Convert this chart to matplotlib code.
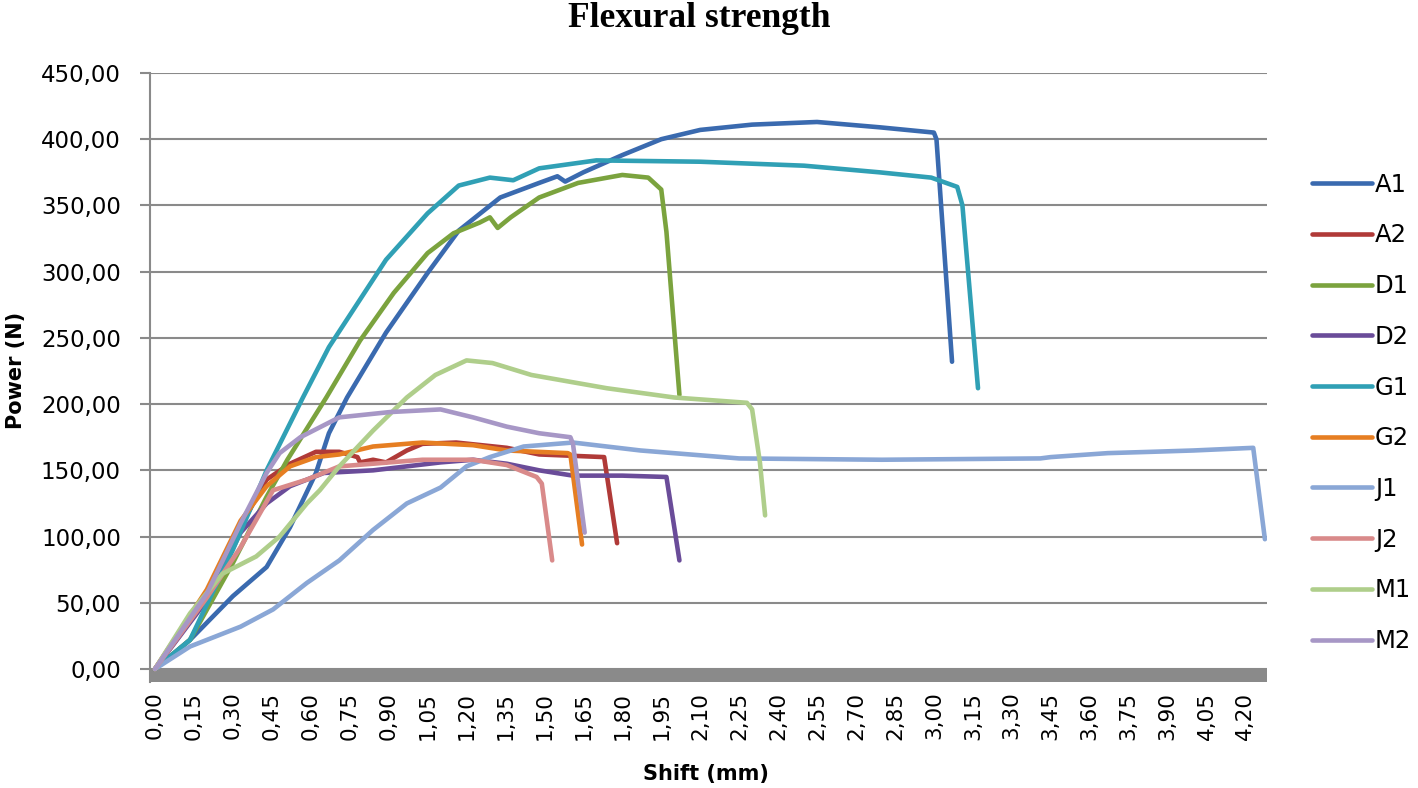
import numpy as np
import matplotlib
matplotlib.use('Agg')
import matplotlib.pyplot as plt

# Flexural strength test curves: shift (mm) vs power (N)
a1_x = [0, 0.135, 0.30, 0.43, 0.52, 0.62, 0.67, 0.74, 0.89, 1.05, 1.17, 1.33, 1.48, 1.55, 1.58,
        1.65, 1.80, 1.95, 2.10, 2.30, 2.55, 2.79, 3.00, 3.01, 3.07]
a1_y = [0, 22, 55, 77, 107, 148, 178, 205, 254, 299, 331, 356, 367, 372, 368,
        375, 388, 400, 407, 411, 413, 409, 405, 400, 232]

a2_x = [0, 0.20, 0.33, 0.43, 0.52, 0.62, 0.71, 0.78, 0.79, 0.84, 0.89, 0.97, 1.03, 1.16, 1.355,
        1.48, 1.73, 1.78]
a2_y = [0, 58, 108, 143, 155, 164, 164, 160, 156, 158, 156, 165, 170, 171, 167,
        162, 160, 95]

d1_x = [0, 0.135, 0.30, 0.43, 0.51, 0.66, 0.79, 0.92, 1.05, 1.15, 1.25, 1.29, 1.32, 1.37, 1.48,
        1.63, 1.80, 1.90, 1.95, 1.97, 2.02]
d1_y = [0, 22, 80, 130, 158, 205, 248, 284, 314, 329, 337, 341, 333, 341, 356,
        367, 373, 371, 362, 330, 207]

d2_x = [0, 0.20, 0.33, 0.43, 0.52, 0.65, 0.84, 1.10, 1.225, 1.355, 1.48, 1.61, 1.80, 1.97, 2.02]
d2_y = [0, 52, 103, 125, 138, 148, 150, 156, 158, 155, 150, 146, 146, 145, 82]

g1_x = [0, 0.135, 0.30, 0.37, 0.43, 0.57, 0.67, 0.79, 0.89, 1.05, 1.17, 1.29, 1.38, 1.48, 1.70,
        2.10, 2.50, 2.79, 2.99, 3.09, 3.11, 3.17]
g1_y = [0, 22, 90, 122, 150, 205, 243, 279, 309, 344, 365, 371, 369, 378, 384,
        383, 380, 375, 371, 364, 350, 212]

g2_x = [0, 0.20, 0.33, 0.43, 0.52, 0.62, 0.71, 0.84, 1.03, 1.225, 1.355, 1.59, 1.60, 1.645]
g2_y = [0, 60, 112, 138, 153, 160, 162, 168, 171, 169, 165, 163, 162, 94]

j1_x = [0, 0.135, 0.33, 0.455, 0.585, 0.71, 0.84, 0.97, 1.10, 1.20, 1.29, 1.42, 1.61, 1.87, 2.25,
        2.80, 3.41, 3.45, 3.67, 3.84, 4.00, 4.23, 4.275]
j1_y = [0, 17, 32, 45, 65, 82, 105, 125, 137, 153, 160, 168, 171, 165, 159,
        158, 159, 160, 163, 164, 165, 167, 98]

j2_x = [0, 0.20, 0.33, 0.455, 0.585, 0.71, 0.84, 1.03, 1.225, 1.355, 1.47, 1.49, 1.53]
j2_y = [0, 54, 92, 135, 143, 153, 155, 158, 158, 154, 145, 140, 82]

m1_x = [0, 0.135, 0.26, 0.39, 0.48, 0.585, 0.635, 0.71, 0.84, 0.97, 1.08, 1.20, 1.30, 1.45,
        1.74, 2.00, 2.28, 2.30, 2.33, 2.35]
m1_y = [0, 42, 72, 85, 100, 125, 135, 153, 180, 205, 222, 233, 231, 222,
        212, 205, 201, 196, 156, 116]

m2_x = [0, 0.20, 0.33, 0.43, 0.48, 0.56, 0.71, 0.905, 1.10, 1.225, 1.355, 1.48, 1.60, 1.61, 1.655]
m2_y = [0, 57, 110, 148, 163, 175, 190, 194, 196, 190, 183, 178, 175, 170, 103]

labels = ['A1', 'A2', 'D1', 'D2', 'G1', 'G2', 'J1', 'J2', 'M1', 'M2']
colors = ['#3A6AAF', '#B03A38', '#7BA33E', '#6A4C99', '#30A0B5',
          '#E67E22', '#8AA7D6', '#D98A8A', '#AFCE8B', '#A797C6']
series = [(a1_x, a1_y), (a2_x, a2_y), (d1_x, d1_y), (d2_x, d2_y), (g1_x, g1_y),
          (g2_x, g2_y), (j1_x, j1_y), (j2_x, j2_y), (m1_x, m1_y), (m2_x, m2_y)]

y_ticks = np.arange(0, 451, 50)
x_ticks = np.arange(0, 4.21, 0.15)

fig = plt.figure(figsize=(14.18, 7.88), dpi=100)
ax = fig.add_axes([0.1058, 0.1345, 0.7877, 0.7729])

for (xs, ys), lab, col in zip(series, labels, colors):
    ax.plot(xs, ys, color=col, lw=3.3, label=lab, solid_capstyle='round',
            solid_joinstyle='round')

# thick grey category axis band like Excel
ax.axhspan(-9.8, 0, color='#8a8a8a', lw=0)
ax.set_ylim(-9.8, 450)
ax.set_xlim(-0.019, 4.283)

ax.set_yticks(y_ticks)
ax.set_yticklabels([f'{v:.2f}'.replace('.', ',') for v in y_ticks])
ax.set_xticks(x_ticks)
ax.set_xticklabels([f'{v:.2f}'.replace('.', ',') for v in x_ticks], rotation=90)

ax.yaxis.grid(True, color='#8a8a8a', lw=1.5)
ax.set_axisbelow(True)
for s in ['top', 'right', 'bottom']:
    ax.spines[s].set_visible(False)
ax.spines['left'].set_color('#8a8a8a')
ax.spines['left'].set_linewidth(1.5)
ax.tick_params(axis='y', length=7, width=1.5, color='#8a8a8a', pad=14, labelsize=16.5)
ax.tick_params(axis='x', length=0, pad=7, labelsize=15.5)

fig.text(0.493, 0.977, 'Flexural strength', ha='center', va='center',
         family='Liberation Serif', fontweight='bold', fontsize=25.5)
fig.text(0.011, 0.53, 'Power (N)', rotation=90, ha='center', va='center',
         fontweight='bold', fontsize=15)
fig.text(0.498, 0.018, 'Shift (mm)', ha='center', va='center',
         fontweight='bold', fontsize=15)

fig.legend(loc='upper left', bbox_to_anchor=(0.925, 0.781), frameon=False,
           fontsize=17.5, handlelength=2.5, handletextpad=0.1, labelspacing=1.1,
           borderpad=0, borderaxespad=0)

plt.savefig('out.png', dpi=100)
